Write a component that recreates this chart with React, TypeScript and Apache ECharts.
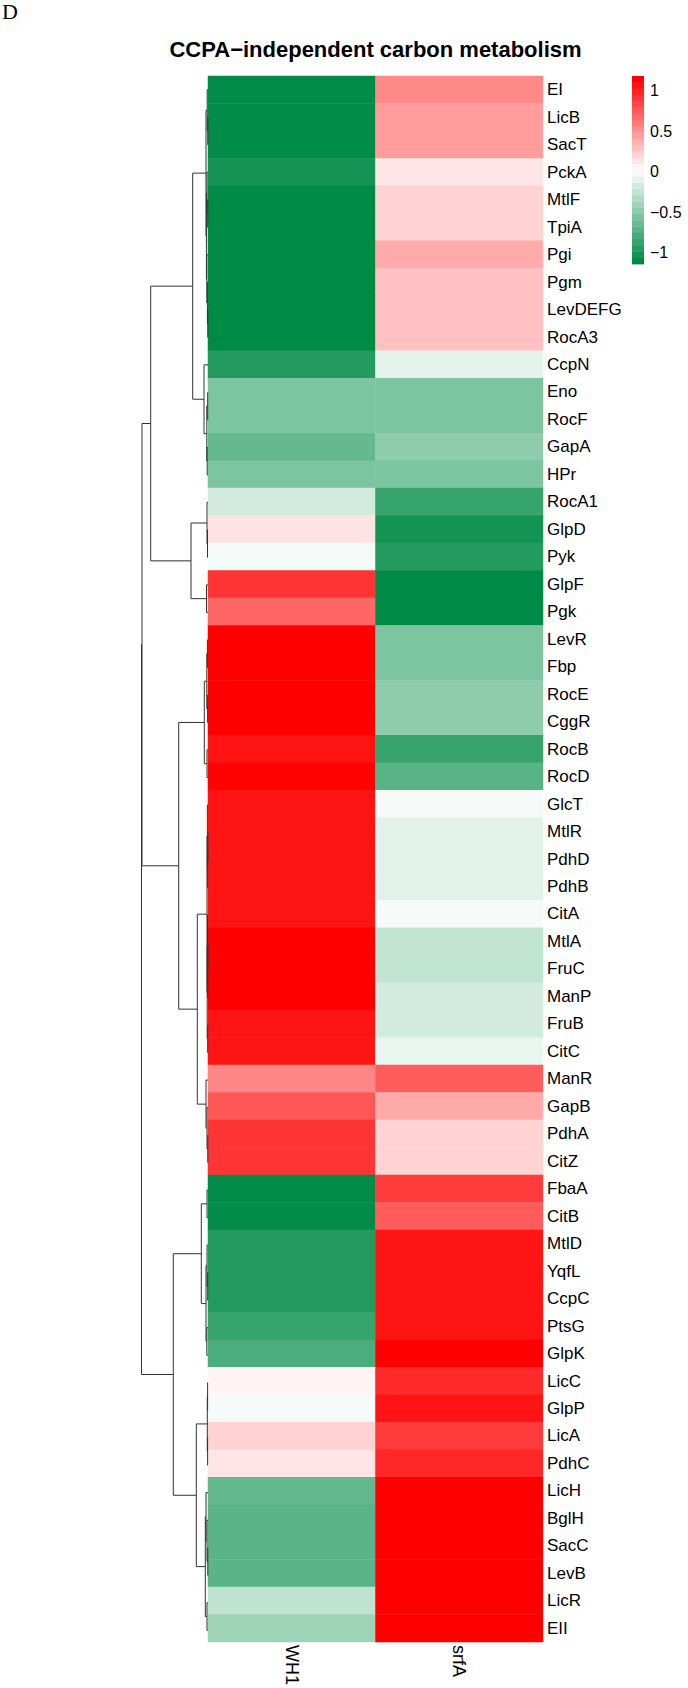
import React, { useEffect, useRef } from 'react';
import * as echarts from 'echarts';

// ---------------- data ----------------
const rowLabels = [
  'EI', 'LicB', 'SacT', 'PckA', 'MtlF', 'TpiA', 'Pgi', 'Pgm', 'LevDEFG', 'RocA3',
  'CcpN', 'Eno', 'RocF', 'GapA', 'HPr', 'RocA1', 'GlpD', 'Pyk', 'GlpF', 'Pgk',
  'LevR', 'Fbp', 'RocE', 'CggR', 'RocB', 'RocD', 'GlcT', 'MtlR', 'PdhD', 'PdhB',
  'CitA', 'MtlA', 'FruC', 'ManP', 'FruB', 'CitC', 'ManR', 'GapB', 'PdhA', 'CitZ',
  'FbaA', 'CitB', 'MtlD', 'YqfL', 'CcpC', 'PtsG', 'GlpK', 'LicC', 'GlpP', 'LicA',
  'PdhC', 'LicH', 'BglH', 'SacC', 'LevB', 'LicR', 'EII',
];
const colLabels = ['WH1', 'srfA'];

const wh1Values = [
  -1.13, -1.13, -1.13, -1.05, -1.14, -1.14, -1.14, -1.14, -1.14, -1.14,
  -0.98, -0.57, -0.57, -0.68, -0.57, -0.18, 0.15, -0.03, 0.94, 0.71,
  1.18, 1.18, 1.18, 1.18, 1.09, 1.17, 1.09, 1.09, 1.09, 1.09,
  1.09, 1.18, 1.18, 1.18, 1.09, 1.09, 0.57, 0.79, 0.94, 0.94,
  -1.13, -1.13, -0.98, -0.98, -0.98, -0.89, -0.80, 0.07, -0.02, 0.22,
  0.14, -0.68, -0.73, -0.73, -0.73, -0.27, -0.42,
];
const srfAValues = [
  0.56, 0.47, 0.47, 0.14, 0.22, 0.22, 0.40, 0.30, 0.30, 0.30,
  -0.10, -0.57, -0.57, -0.49, -0.57, -0.89, -1.05, -0.98, -1.14, -1.14,
  -0.57, -0.57, -0.49, -0.49, -0.89, -0.74, -0.02, -0.11, -0.11, -0.11,
  -0.02, -0.26, -0.26, -0.18, -0.18, -0.08, 0.76, 0.41, 0.22, 0.22,
  0.91, 0.76, 1.09, 1.09, 1.09, 1.09, 1.18, 0.99, 1.09, 0.91,
  1.0, 1.18, 1.18, 1.18, 1.18, 1.18, 1.18,
];

const valueMin = -1.14;
const valueMax = 1.18;
const legendTicks = [-1, -0.5, 0, 0.5, 1];
const palette = ['#008B45', '#FFFFFF', '#FF0000'];
const legendSteps = 30;

// Row dendrogram: [mergeHeight, left, right]; leaves are row indices
type TreeNode = number | [number, TreeNode, TreeNode];
const clusterA: TreeNode = [57.3,
  [15.3,
    [2, [0.8, 0, [0.2, 1, 2]],
      [1.6, [1.0, 3, [0.3, 4, 5]], [1.2, 6, [0.6, 7, [0.2, 8, 9]]]]],
    [4, 10, [1.2, [0.3, 11, 12], [0.8, 13, 14]]]],
  [17, [1.0, 15, [0.5, 16, 17]], [1.5, 18, 19]]];
const clusterB: TreeNode = [29.3,
  [3.7, [1.2, [0.6, 20, 21], [0.4, 22, 23]], [1.0, 24, 25]],
  [10.7,
    [1.0, [0.6, 26, [0.4, [0.1, 27, 28], 29]],
      [0.8, [0.5, 30, [0.3, [0.1, 31, 32], 33]], [0.3, 34, 35]]],
    [2, 36, [1.0, 37, [0.2, 38, 39]]]]];
const clusterC: TreeNode = [34.7,
  [6.7, [1.0, 40, 41], [2.0, [1.0, 42, [0.3, 43, 44]], [1.2, 45, 46]]],
  [11.7, [0.7, [0.4, 47, 48], [0.4, 49, 50]],
    [2.7, [2.0, 51, [1.0, 52, [0.2, 53, 54]]], [1.0, 55, 56]]]];
const rowTree: TreeNode = [66.5, [66, clusterA, clusterB], clusterC];

// ---------------- helpers ----------------
function hexToRgb(h: string): number[] {
  const n = parseInt(h.slice(1), 16);
  return [(n >> 16) & 255, (n >> 8) & 255, n & 255];
}
function colorAt(v: number): string {
  const t = Math.max(0, Math.min(1, (v - valueMin) / (valueMax - valueMin)));
  const seg = t * (palette.length - 1);
  const i = Math.min(Math.floor(seg), palette.length - 2);
  const f = seg - i;
  const a = hexToRgb(palette[i]);
  const b = hexToRgb(palette[i + 1]);
  const c = a.map((x, k) => Math.round(x + (b[k] - x) * f));
  return `rgb(${c[0]},${c[1]},${c[2]})`;
}
function layoutTree(node: TreeNode, segs: number[][]): { y: number; h: number } {
  if (typeof node === 'number') return { y: node, h: 0 };
  const [h, l, r] = node;
  const a = layoutTree(l, segs);
  const b = layoutTree(r, segs);
  segs.push([a.y, b.y, a.h, b.h, h]);
  return { y: (a.y + b.y) / 2, h };
}

const FONT = '"Liberation Sans", Arial, sans-serif';

export default function App() {
  const ref = useRef<HTMLDivElement>(null);
  useEffect(() => {
    if (!ref.current) return;
    const chart = echarts.init(ref.current, undefined, { renderer: 'svg' });

    const heatData: number[][] = [];
    rowLabels.forEach((_, i) => {
      heatData.push([0, i, wh1Values[i]]);
      heatData.push([1, i, srfAValues[i]]);
    });
    const segs: number[][] = [];
    layoutTree(rowTree, segs);

    const stepSize = (valueMax - valueMin) / legendSteps;
    const bands: number[][] = [];
    for (let k = 0; k < legendSteps; k++) {
      const lo = valueMin + k * stepSize;
      bands.push([lo, lo + stepSize, valueMin + (k / (legendSteps - 1)) * (valueMax - valueMin)]);
    }

    chart.setOption({
      animation: false,
      textStyle: { fontFamily: FONT },
      grid: [
        { left: 208, top: 76, width: 335, height: 1568 },
        { left: 138, top: 76, width: 70, height: 1568 },
        { left: 632, top: 76, width: 12, height: 188 },
      ],
      xAxis: [
        {
          type: 'category', gridIndex: 0, data: colLabels, position: 'bottom',
          axisLine: { show: false }, axisTick: { show: false }, splitLine: { show: false },
          axisLabel: { rotate: -90, margin: 3, fontSize: 18, color: '#000', interval: 0, fontFamily: FONT },
        },
        { type: 'value', gridIndex: 1, min: 0, max: 70, inverse: true, show: false },
        { type: 'value', gridIndex: 2, min: 0, max: 1, show: false },
      ],
      yAxis: [
        {
          type: 'category', gridIndex: 0, data: rowLabels, inverse: true, position: 'right',
          axisLine: { show: false }, axisTick: { show: false }, splitLine: { show: false },
          axisLabel: { margin: 4, fontSize: 17, color: '#000', interval: 0, fontFamily: FONT },
        },
        { type: 'value', gridIndex: 1, min: -0.5, max: rowLabels.length - 0.5, inverse: true, show: false },
        {
          type: 'value', gridIndex: 2, min: valueMin, max: valueMax, position: 'right',
          axisLine: { show: false }, axisTick: { show: false }, splitLine: { show: false },
          axisLabel: {
            customValues: legendTicks, margin: 6, fontSize: 16, color: '#000', fontFamily: FONT,
            formatter: (v: number) => (v < 0 ? '\u2212' + String(Math.abs(v)) : String(v)),
          },
        },
      ],
      visualMap: {
        type: 'continuous', show: false, min: valueMin, max: valueMax, dimension: 2,
        seriesIndex: 0, inRange: { color: palette },
      },
      series: [
        {
          type: 'heatmap', xAxisIndex: 0, yAxisIndex: 0, data: heatData,
          itemStyle: { borderWidth: 0 }, emphasis: { disabled: true }, silent: true,
        },
        {
          type: 'custom', xAxisIndex: 1, yAxisIndex: 1, data: segs, clip: false, silent: true,
          renderItem: (_p: any, api: any) => {
            const yL = api.value(0), yR = api.value(1), hL = api.value(2), hR = api.value(3), h = api.value(4);
            const pts = [api.coord([hL, yL]), api.coord([h, yL]), api.coord([h, yR]), api.coord([hR, yR])];
            return { type: 'polyline', shape: { points: pts }, style: { stroke: '#333', lineWidth: 1, fill: null } };
          },
        },
        {
          type: 'custom', xAxisIndex: 2, yAxisIndex: 2, data: bands, clip: false, silent: true,
          renderItem: (_p: any, api: any) => {
            const p1 = api.coord([0, api.value(1)]);
            const p2 = api.coord([1, api.value(0)]);
            return {
              type: 'rect',
              shape: { x: p1[0], y: p1[1], width: p2[0] - p1[0], height: p2[1] - p1[1] + 0.4 },
              style: { fill: colorAt(api.value(2)), stroke: null },
            };
          },
        },
      ],
      graphic: [
        {
          type: 'text', x: 2, y: 11.5,
          style: {
            text: 'D', fontSize: 22, fontFamily: '"Liberation Serif", "Times New Roman", serif', fill: '#000',
            align: 'left', verticalAlign: 'middle', textAlign: 'left', textVerticalAlign: 'middle',
          },
        },
        {
          type: 'text', x: 375.5, y: 49,
          style: {
            text: 'CCPA\u2212independent carbon metabolism', fontSize: 22, fontWeight: 'bold', fontFamily: FONT,
            fill: '#000', align: 'center', verticalAlign: 'middle', textAlign: 'center', textVerticalAlign: 'middle',
          },
        },
      ],
    });
    return () => chart.dispose();
  }, []);
  return <div ref={ref} style={{ position: 'absolute', left: 0, top: 0, width: 688, height: 1688 }} />;
}
